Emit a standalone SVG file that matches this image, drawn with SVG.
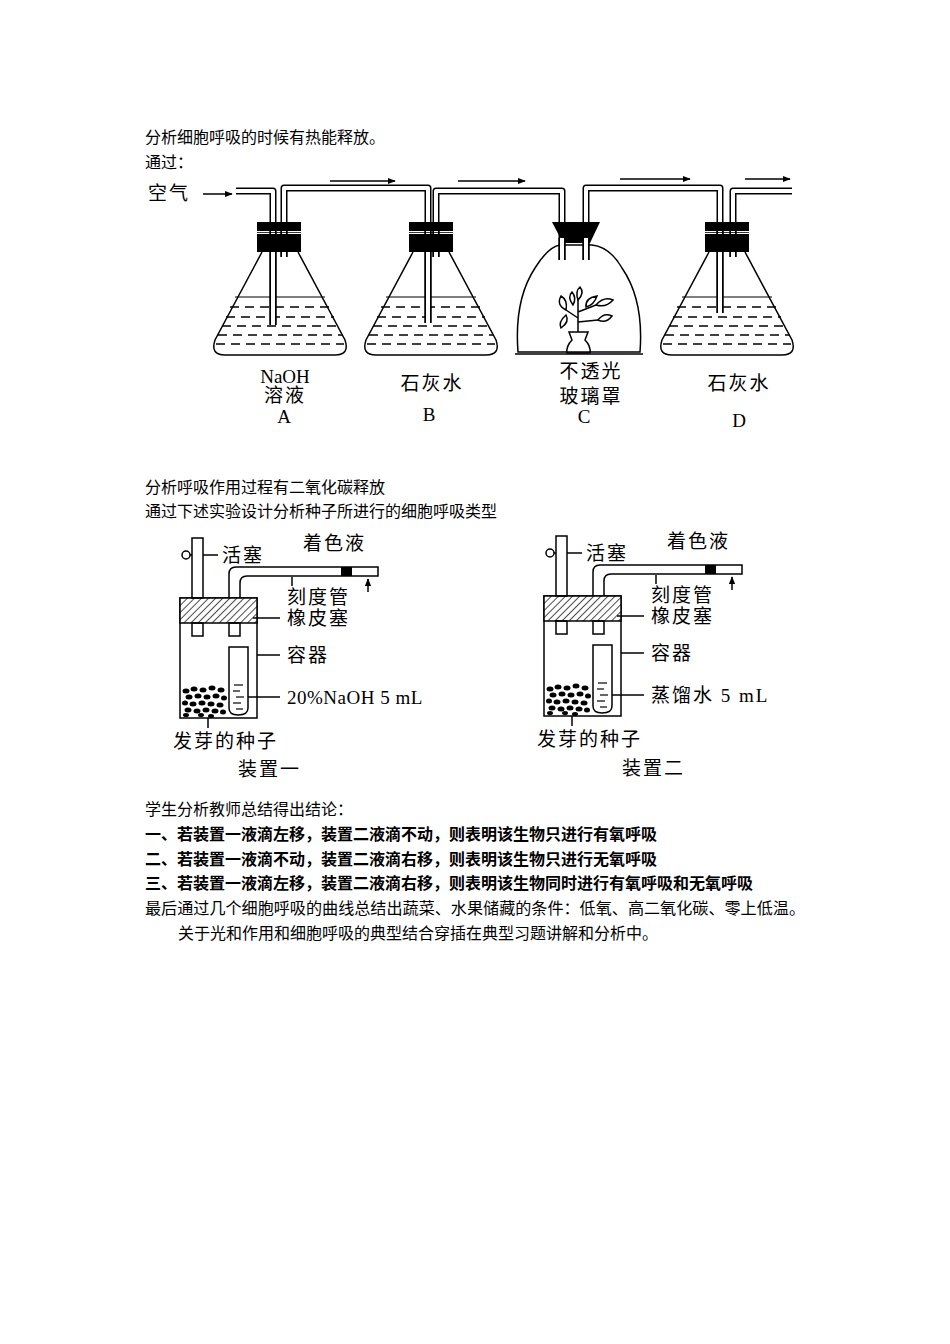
<svg xmlns="http://www.w3.org/2000/svg" width="950" height="1344" viewBox="0 0 950 1344">
<style>
.t{font-family:"Liberation Serif","Noto Sans CJK SC",serif;font-size:16px;fill:#000}
.b{font-family:"Noto Sans CJK SC",sans-serif;font-size:16px;font-weight:bold;fill:#000}
.l{font-family:"Liberation Serif","Noto Sans CJK SC",serif;font-size:19px;fill:#000;letter-spacing:2px}
.ln{fill:none;stroke:#000;stroke-width:1.5}
.po{fill:none;stroke:#000;stroke-width:7;stroke-linejoin:round}
.pi{fill:none;stroke:#fff;stroke-width:4;stroke-linejoin:round}
.lq{stroke:#000;stroke-width:1.5;stroke-dasharray:9 6}
</style>
<defs>
<marker id="ah" viewBox="0 0 10 10" refX="9" refY="5" markerWidth="8" markerHeight="8" orient="auto" markerUnits="userSpaceOnUse"><path d="M0,1 L10,5 L0,9 z"/></marker>
<pattern id="hatch" width="5" height="5" patternUnits="userSpaceOnUse" patternTransform="rotate(45)"><rect width="5" height="5" fill="#fff"/><line x1="0" y1="0" x2="0" y2="5" stroke="#000" stroke-width="1.4"/></pattern>
<g id="flask">
<path class="ln" d="M-18,252 L-65,340 Q-70,355 -55,355 L55,355 Q70,355 65,340 L18,252" fill="#fff"/>
</g>
<g id="liq">
<line x1="-45" y1="297" x2="45" y2="297" stroke="#000" stroke-width="1.2"/>
<line class="lq" x1="-50" y1="307" x2="50" y2="307"/>
<line class="lq" x1="-54" y1="317" x2="54" y2="317"/>
<line class="lq" x1="-58" y1="326" x2="58" y2="326"/>
<line class="lq" x1="-62" y1="335" x2="62" y2="335"/>
<line class="lq" x1="-64" y1="344" x2="64" y2="344"/>
</g>
<g id="stop">
<rect x="-22" y="222" width="44" height="9" fill="#000"/><rect x="-22" y="234" width="44" height="18" fill="#000"/>
<line x1="-22" y1="232.5" x2="22" y2="232.5" stroke="#000" stroke-width="0.8"/>
</g>
<g id="app">
<rect x="180" y="598" width="77" height="120" class="ln" fill="#fff"/>
<rect x="180" y="598" width="77" height="25" fill="url(#hatch)" stroke="#000" stroke-width="1.5"/>
<rect x="192" y="538" width="11" height="60" class="ln"/>
<rect x="192" y="623" width="11" height="13" class="ln"/>
<rect x="229" y="623" width="11" height="13" class="ln"/>
<circle cx="186" cy="555" r="4" class="ln"/>
<line x1="190" y1="555" x2="192" y2="555" class="ln"/>
<line x1="203" y1="555" x2="218" y2="555" class="ln"/>
<path class="ln" d="M229,598 L229,574 Q229,567 236,567 L378,567 L378,576 L247,576 Q240,576 240,583 L240,598"/>
<rect x="341" y="567" width="11" height="9" fill="#000"/>
<line x1="292" y1="577" x2="292" y2="586" class="ln"/>
<line x1="368" y1="592" x2="368" y2="579" class="ln" marker-end="url(#ah)"/>
<path class="ln" d="M229,647 L248,647 L248,708 Q248,715 238,715 Q229,715 229,708 Z"/>
<g stroke="#000" stroke-width="1.2"><line x1="234" y1="685" x2="243" y2="685"/><line x1="233" y1="691" x2="240" y2="691"/><line x1="236" y1="697" x2="244" y2="697"/><line x1="233" y1="703" x2="241" y2="703"/><line x1="236" y1="709" x2="243" y2="709"/></g>
<g fill="#000">
<ellipse cx="186" cy="691" rx="3.5" ry="2.5"/><ellipse cx="194" cy="689" rx="3.5" ry="2.5"/><ellipse cx="203" cy="690" rx="3.5" ry="2.5"/><ellipse cx="212" cy="688" rx="3.5" ry="2.5"/><ellipse cx="221" cy="690" rx="3.5" ry="2.5"/>
<ellipse cx="189" cy="697" rx="3.5" ry="2.5"/><ellipse cx="198" cy="696" rx="3.5" ry="2.5"/><ellipse cx="207" cy="697" rx="3.5" ry="2.5"/><ellipse cx="216" cy="696" rx="3.5" ry="2.5"/><ellipse cx="224" cy="698" rx="3" ry="2.5"/>
<ellipse cx="185" cy="703" rx="3" ry="2.5"/><ellipse cx="193" cy="704" rx="3.5" ry="2.5"/><ellipse cx="202" cy="703" rx="3.5" ry="2.5"/><ellipse cx="211" cy="704" rx="3.5" ry="2.5"/><ellipse cx="220" cy="705" rx="3.5" ry="2.5"/>
<ellipse cx="188" cy="710" rx="3.5" ry="2.5"/><ellipse cx="197" cy="711" rx="3.5" ry="2.5"/><ellipse cx="206" cy="710" rx="3.5" ry="2.5"/><ellipse cx="215" cy="711" rx="3.5" ry="2.5"/><ellipse cx="223" cy="712" rx="3" ry="2.5"/>
<ellipse cx="186" cy="715" rx="3" ry="2"/><ellipse cx="201" cy="715" rx="3" ry="2"/><ellipse cx="211" cy="716" rx="3" ry="2"/>
</g>
<line x1="208" y1="718" x2="208" y2="728" class="ln"/>
<line x1="253" y1="618" x2="280" y2="618" class="ln"/>
<line x1="257" y1="655" x2="280" y2="655" class="ln"/>
<line x1="248" y1="697" x2="280" y2="697" class="ln"/>
<text class="l" x="222" y="562">活塞</text>
<text class="l" x="303" y="550">着色液</text>
<text class="l" x="287" y="604">刻度管</text>
<text class="l" x="287" y="625">橡皮塞</text>
<text class="l" x="287" y="662">容器</text>
<text class="l" x="173" y="748">发芽的种子</text>
</g>
</defs>

<g id="text-top">
<text class="t" x="145" y="143">分析细胞呼吸的时候有热能释放。</text>
<text class="t" x="145" y="168">通过：</text>
</g>

<g id="connectors">
<path class="po" d="M236,191 L273,191 L273,325"/>
<path class="pi" d="M236,191 L273,191 L273,325"/>
<path class="po" d="M284,257 L284,188 L428,188 L428,323"/>
<path class="pi" d="M284,257 L284,188 L428,188 L428,323"/>
<path class="po" d="M436,257 L436,191 L562,191 L562,260"/>
<path class="pi" d="M436,257 L436,191 L562,191 L562,260"/>
<path class="po" d="M586,260 L586,188 L720,188 L720,313"/>
<path class="pi" d="M586,260 L586,188 L720,188 L720,313"/>
<path class="po" d="M733,257 L733,191 L792,191"/>
<path class="pi" d="M733,257 L733,191 L793,191"/>
<line x1="203" y1="194" x2="232" y2="194" class="ln" marker-end="url(#ah)"/>
<line x1="330" y1="181" x2="395" y2="181" class="ln" marker-end="url(#ah)"/>
<line x1="458" y1="181" x2="525" y2="181" class="ln" marker-end="url(#ah)"/>
<line x1="620" y1="179" x2="690" y2="179" class="ln" marker-end="url(#ah)"/>
<line x1="745" y1="179" x2="790" y2="179" class="ln" marker-end="url(#ah)"/>
</g>

<g id="flaskA">
<use href="#flask" x="280"/><use href="#liq" x="280"/>
<path class="po" d="M273,222 L273,325"/><path class="pi" d="M273,220 L273,325"/>
<path class="po" d="M284,222 L284,257"/><path class="pi" d="M284,220 L284,257"/>
<use href="#stop" x="279"/>
<text class="l" x="148" y="200">空气</text>
<text class="l" x="285" y="383" text-anchor="middle" style="letter-spacing:0">NaOH</text>
<text class="l" x="285" y="402" text-anchor="middle">溶液</text>
<text class="l" x="285" y="423" text-anchor="middle">A</text>
</g>
<g id="flaskB">
<use href="#flask" x="431"/><use href="#liq" x="431"/>
<path class="po" d="M428,222 L428,323"/><path class="pi" d="M428,220 L428,323"/>
<path class="po" d="M436,222 L436,257"/><path class="pi" d="M436,220 L436,257"/>
<use href="#stop" x="431"/>
<text class="l" x="432" y="390" text-anchor="middle">石灰水</text>
<text class="l" x="430" y="421" text-anchor="middle">B</text>
</g>
<g id="bellC">
<path class="ln" d="M518,352 Q514,300 535,268 Q548,247 560,245 L592,245 Q610,247 622,268 Q644,300 640,352 Z" fill="#fff"/>
<line x1="515" y1="354" x2="643" y2="354" class="ln"/>
<path d="M552,222 L600,222 L590,243 L563,243 Z" fill="#000"/>
<path class="po" d="M562,238 L562,260"/><path class="pi" d="M562,238 L562,260"/>
<path class="po" d="M586,238 L586,260"/><path class="pi" d="M586,238 L586,260"/>
<path class="ln" d="M569,332 L588,332 L585,340 Q591,346 590,353 L567,353 Q566,346 572,340 Z"/>
<path class="ln" d="M578,332 L578,300 M578,318 L566,310 M578,312 L596,305 M578,322 L598,320"/>
<path class="ln" d="M566,310 Q556,305 561,296 Q568,300 566,310 Z M566,315 Q558,322 561,328 Q570,322 566,315 Z M578,300 Q575,291 580,287 Q585,293 578,300 Z M586,307 Q585,298 597,296 Q594,305 586,307 Z M596,305 Q604,296 613,300 Q606,308 596,305 Z M598,320 Q604,312 612,316 Q606,324 598,320 Z M573,305 Q567,297 572,292 Q577,298 573,305 Z"/>
<text class="l" x="591" y="378" text-anchor="middle">不透光</text>
<text class="l" x="591" y="403" text-anchor="middle">玻璃罩</text>
<text class="l" x="585" y="423" text-anchor="middle">C</text>
</g>
<g id="flaskD">
<use href="#flask" x="727"/><use href="#liq" x="727"/>
<path class="po" d="M720,222 L720,313"/><path class="pi" d="M720,220 L720,313"/>
<path class="po" d="M733,222 L733,257"/><path class="pi" d="M733,220 L733,257"/>
<use href="#stop" x="727"/>
<text class="l" x="739" y="390" text-anchor="middle">石灰水</text>
<text class="l" x="740" y="427" text-anchor="middle">D</text>
</g>

<g id="text-mid">
<text class="t" x="145" y="493">分析呼吸作用过程有二氧化碳释放</text>
<text class="t" x="145" y="517">通过下述实验设计分析种子所进行的细胞呼吸类型</text>
</g>

<g id="apparatus1">
<use href="#app"/>
<text class="l" x="287" y="704" style="letter-spacing:0.5px">20%NaOH  5 mL</text>
<text class="l" x="238" y="776">装置一</text>
</g>
<g id="apparatus2">
<use href="#app" x="364" y="-2"/>
<text class="l" x="651" y="702">蒸馏水 5 mL</text>
<text class="l" x="622" y="775">装置二</text>
</g>

<g id="text-bottom">
<text class="t" x="145" y="815">学生分析教师总结得出结论：</text>
<text class="b" x="145" y="840">一、若装置一液滴左移，装置二液滴不动，则表明该生物只进行有氧呼吸</text>
<text class="b" x="145" y="865">二、若装置一液滴不动，装置二液滴右移，则表明该生物只进行无氧呼吸</text>
<text class="b" x="145" y="889">三、若装置一液滴左移，装置二液滴右移，则表明该生物同时进行有氧呼吸和无氧呼吸</text>
<text class="t" x="145" y="914" textLength="660" lengthAdjust="spacingAndGlyphs">最后通过几个细胞呼吸的曲线总结出蔬菜、水果储藏的条件：低氧、高二氧化碳、零上低温。</text>
<text class="t" x="178" y="939">关于光和作用和细胞呼吸的典型结合穿插在典型习题讲解和分析中。</text>
</g>
</svg>
